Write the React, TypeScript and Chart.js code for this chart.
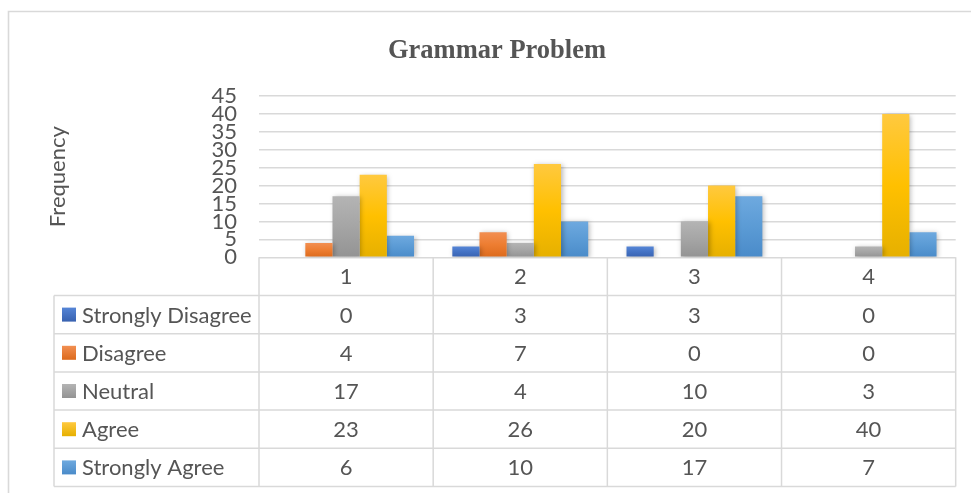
import React, { useEffect, useRef } from 'react';
import { Chart, registerables } from 'chart.js';

Chart.register(...registerables);

const categories = ['1', '2', '3', '4'];
const seriesNames = ['Strongly Disagree', 'Disagree', 'Neutral', 'Agree', 'Strongly Agree'];
const stronglyDisagree = [0, 3, 3, 0];
const disagree = [4, 7, 0, 0];
const neutral = [17, 4, 10, 3];
const agree = [23, 26, 20, 40];
const stronglyAgree = [6, 10, 17, 7];
const yMin = 0;
const yMax = 45;
const yStep = 5;
const chartTitle = 'Grammar Problem';
const yAxisTitle = 'Frequency';

const seriesValues = [stronglyDisagree, disagree, neutral, agree, stronglyAgree];
const palette = [
  { light: '#5585d6', base: '#4472c4', dark: '#3862b0' },
  { light: '#f28f52', base: '#ed7d31', dark: '#dc6a1c' },
  { light: '#b4b4b4', base: '#a5a5a5', dark: '#939393' },
  { light: '#ffc93f', base: '#ffc000', dark: '#e6b000' },
  { light: '#6ea9df', base: '#5b9bd5', dark: '#4a8bc9' },
];

const TEXT = '#555555';
const LINE = '#d9d9d9';
const FONT = 'Lato';
const FONT_SIZE = 22;

const gradientFill = (i: number) => (ctx: any) => {
  const p = palette[i];
  if (ctx.type !== 'data') return p.base;
  const chart = ctx.chart;
  const ys = chart.scales.y;
  if (!ys || !chart.chartArea) return p.base;
  const top = ys.getPixelForValue(ctx.raw);
  const bottom = ys.getPixelForValue(0);
  if (bottom - top < 1) return p.base;
  const g = chart.ctx.createLinearGradient(0, top, 0, bottom);
  g.addColorStop(0, p.light);
  g.addColorStop(0.5, p.base);
  g.addColorStop(1, p.dark);
  return g;
};

const decorPlugin = {
  id: 'decor',
  beforeDraw(chart: any) {
    const ctx = chart.ctx;
    ctx.save();
    ctx.fillStyle = '#ffffff';
    ctx.fillRect(0, 0, chart.width, chart.height);
    ctx.restore();
  },
  beforeDatasetsDraw(chart: any) {
    const ctx = chart.ctx;
    ctx.save();
    ctx.shadowColor = 'rgba(0,0,0,0.28)';
    ctx.shadowBlur = 5;
    ctx.shadowOffsetX = 1.5;
    ctx.shadowOffsetY = 1;
  },
  afterDatasetsDraw(chart: any) {
    chart.ctx.restore();
  },
  afterDraw(chart: any) {
    const ctx = chart.ctx;
    const area = chart.chartArea;
    const xs = chart.scales.x;
    const rowH = 38.2;
    const legendLeft = 54;
    const headerTop = area.bottom;
    const headerBottom = headerTop + rowH;
    const tableBottom = headerBottom + rowH * seriesNames.length;

    ctx.save();
    // outer chart border
    ctx.strokeStyle = LINE;
    ctx.lineWidth = 1.6;
    ctx.beginPath();
    ctx.moveTo(8.5, chart.height);
    ctx.lineTo(8.5, 11.5);
    ctx.lineTo(chart.width, 11.5);
    ctx.stroke();

    // title
    ctx.fillStyle = TEXT;
    ctx.font = 'bold 26.5px "Liberation Serif"';
    ctx.textAlign = 'center';
    ctx.textBaseline = 'alphabetic';
    ctx.fillText(chartTitle, 497, 58);

    // table grid
    const centers = categories.map((_, i) => xs.getPixelForValue(i));
    const bounds = [area.left];
    for (let i = 0; i < centers.length - 1; i++) bounds.push((centers[i] + centers[i + 1]) / 2);
    bounds.push(area.right);

    ctx.strokeStyle = LINE;
    ctx.lineWidth = 1.5;
    ctx.beginPath();
    bounds.forEach((bx) => {
      ctx.moveTo(bx, headerTop);
      ctx.lineTo(bx, tableBottom);
    });
    ctx.moveTo(legendLeft, headerBottom);
    ctx.lineTo(legendLeft, tableBottom);
    for (let r = 0; r <= seriesNames.length; r++) {
      const ly = headerBottom + r * rowH;
      ctx.moveTo(legendLeft, ly);
      ctx.lineTo(area.right, ly);
    }
    ctx.stroke();

    // header labels
    ctx.fillStyle = TEXT;
    ctx.font = `${FONT_SIZE}px "${FONT}"`;
    ctx.textAlign = 'center';
    ctx.textBaseline = 'middle';
    categories.forEach((c, i) => {
      ctx.fillText(c, centers[i], headerTop + rowH / 2 + 1);
    });

    // rows
    seriesNames.forEach((name, r) => {
      const cy = headerBottom + r * rowH + rowH / 2;
      const p = palette[r];
      const g = ctx.createLinearGradient(0, cy - 7, 0, cy + 7);
      g.addColorStop(0, p.light);
      g.addColorStop(1, p.dark);
      ctx.fillStyle = g;
      ctx.fillRect(62, cy - 7, 14, 14);
      ctx.fillStyle = TEXT;
      ctx.textAlign = 'left';
      ctx.fillText(name, 82, cy + 1);
      ctx.textAlign = 'center';
      seriesValues[r].forEach((v, i) => {
        ctx.fillText(String(v), centers[i], cy + 1);
      });
    });
    ctx.restore();
  },
};

export default function App() {
  const canvasRef = useRef<HTMLCanvasElement | null>(null);

  useEffect(() => {
    if (!canvasRef.current) return;
    const chart = new Chart(canvasRef.current, {
      type: 'bar',
      data: {
        labels: categories,
        datasets: seriesNames.map((name, i) => ({
          label: name,
          data: seriesValues[i],
          backgroundColor: gradientFill(i),
          borderWidth: 0,
          categoryPercentage: 0.78,
          barPercentage: 1.0,
        })),
      },
      options: {
        animation: false,
        responsive: true,
        maintainAspectRatio: false,
        layout: { padding: { left: 40, top: 96, right: 15.3, bottom: 235.7 } },
        plugins: {
          legend: { display: false },
          title: { display: false },
          tooltip: { enabled: false },
        },
        scales: {
          x: { display: false },
          y: {
            min: yMin,
            max: yMax,
            border: { display: false },
            grid: { color: LINE, lineWidth: 1.5, drawTicks: false },
            ticks: {
              stepSize: yStep,
              autoSkip: false,
              padding: 22,
              color: TEXT,
              font: { family: FONT, size: FONT_SIZE },
            },
            title: {
              display: true,
              text: yAxisTitle,
              color: TEXT,
              font: { family: FONT, size: FONT_SIZE },
              padding: { top: 5, bottom: 0 },
            },
            afterFit: (s: any) => {
              s.width = 219;
            },
          },
        },
      },
      plugins: [decorPlugin],
    });
    return () => chart.destroy();
  }, []);

  return (
    <div style={{ position: 'absolute', left: 0, top: 0, width: 971, height: 493, background: '#fff' }}>
      <canvas ref={canvasRef} />
    </div>
  );
}
